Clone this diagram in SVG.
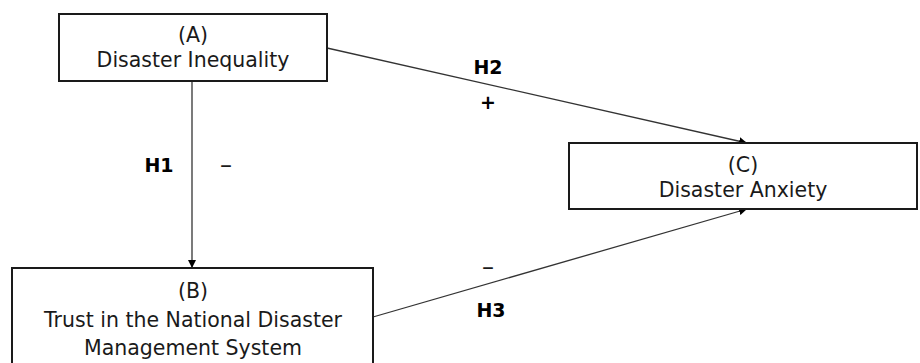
<svg xmlns="http://www.w3.org/2000/svg" width="920" height="363" viewBox="0 0 920 363">
<style>
.box{fill:#fff;stroke:#1a1a1a;stroke-width:2}
.t{font-family:"DejaVu Sans",sans-serif;font-size:20.5px;fill:#1a1a1a;text-anchor:middle}
.d{font-family:"DejaVu Sans",sans-serif;font-size:24px;fill:#1a1a1a;text-anchor:middle}
.lb{font-family:"DejaVu Sans",sans-serif;font-size:19px;font-weight:bold;fill:#000;text-anchor:middle}
.ln{stroke:#333;stroke-width:1.3;fill:none;marker-end:url(#ah)}
</style>
<defs>
<marker id="ah" viewBox="0 0 10 10" refX="10" refY="5" markerWidth="8" markerHeight="8" markerUnits="userSpaceOnUse" orient="auto">
<path d="M0,0 L10,5 L0,10 z" fill="#000"/>
</marker>
</defs>
<g id="connectors">
<line class="ln" x1="192" y1="81" x2="192" y2="268"/>
<line class="ln" x1="327" y1="48" x2="747" y2="143"/>
<line class="ln" x1="373" y1="317" x2="747" y2="209"/>
</g>
<g id="labels">
<text class="lb" x="159" y="172">H1</text>
<text class="d" x="226" y="173">–</text>
<text class="lb" x="488" y="74">H2</text>
<text class="lb" x="488" y="109">+</text>
<text class="d" x="488" y="275">–</text>
<text class="lb" x="491" y="317">H3</text>
</g>
<g id="nodeA">
<rect class="box" x="59" y="14" width="268" height="67"/>
<text class="t" x="193" y="42">(A)</text>
<text class="t" x="193" y="67">Disaster Inequality</text>
</g>
<g id="nodeC">
<rect class="box" x="569" y="143" width="348" height="66"/>
<text class="t" x="743" y="172">(C)</text>
<text class="t" x="743" y="197">Disaster Anxiety</text>
</g>
<g id="nodeB">
<rect class="box" x="12" y="268" width="361" height="100"/>
<text class="t" x="193" y="298">(B)</text>
<text class="t" x="193" y="327">Trust in the National Disaster</text>
<text class="t" x="193" y="355">Management System</text>
</g>
</svg>
